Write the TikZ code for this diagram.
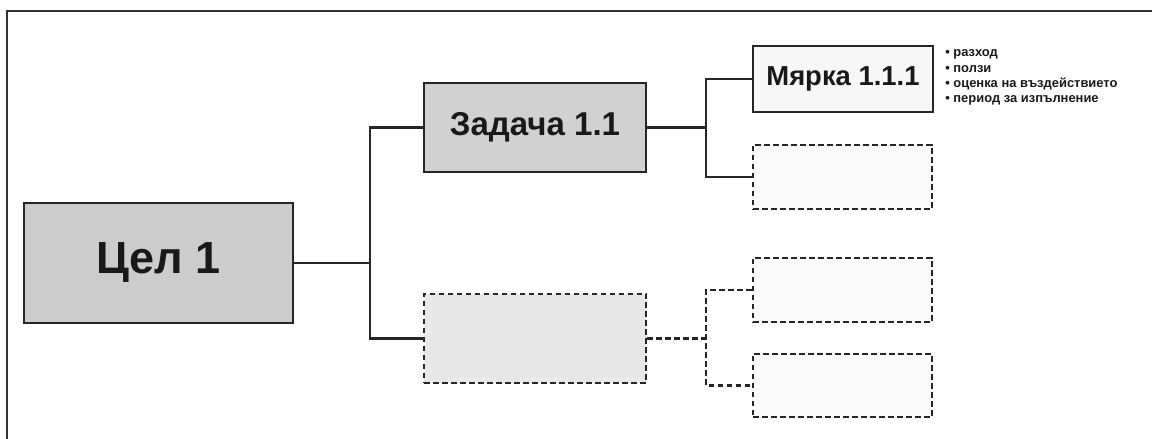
\documentclass[tikz,border=0pt]{standalone}
\usepackage{fontspec}
\setmainfont{Liberation Sans}
\usetikzlibrary{positioning}

\begin{document}
\begin{tikzpicture}[x=0.025cm,y=-0.025cm,
      every node/.style={inner sep=0pt,text=black!90},
      solid box/.style={draw=black!85,line width=1.8pt},
      empty box/.style={draw=black!85,line width=1.6pt,dash pattern=on 4pt off 2.4pt},
      goal node/.style={solid box,fill=black!20,minimum width=6.725cm,minimum height=3cm,font=\fontsize{32}{38}\selectfont\bfseries},
      task node/.style={solid box,fill=black!18,minimum width=5.55cm,minimum height=2.225cm,font=\fontsize{23.5}{28}\selectfont\bfseries},
      measure node/.style={solid box,fill=black!3,minimum width=4.5cm,minimum height=1.65cm,font=\fontsize{19.5}{23}\selectfont\bfseries},
      note/.style={anchor=west,font=\fontsize{9.2}{11}\selectfont\bfseries},
      link/.style={draw=black!85,line width=1.5pt},
      dashed link/.style={link,dash pattern=on 4pt off 2.4pt}]

      \useasboundingbox (0,0) rectangle (1152,439);
      % frame of the page
      \draw[black!80,line width=1.7pt] (7,439) -- (7,11) -- (1152,11);

      \node[goal node] (goal) at (158.5,263) {Цел 1};
      \node[task node] (task) at (535,127.5) {Задача 1.1};
      \node[empty box,fill=black!9,minimum width=5.55cm,minimum height=2.225cm] (task2) at (535,338.5) {};

      \node[measure node] (m1) at (843,79) {Мярка 1.1.1};
      \node[empty box,fill=black!2,minimum width=4.475cm,minimum height=1.6cm] (m2) at (842.5,177) {};
      \node[empty box,fill=black!2,minimum width=4.475cm,minimum height=1.6cm] (m3) at (842.5,290) {};
      \node[empty box,fill=black!2,minimum width=4.475cm,minimum height=1.575cm] (m4) at (842.5,385.5) {};

      % notes next to the measure
      \foreach \y/\t [count=\i] in {54/разход, 69/ползи, 84/оценка на въздействието, 100/период за изпълнение}
          \node[note] (note\i) at (945,\y) {• \t};

      \coordinate (b1) at (370,263);
      \coordinate (b2) at (706,127.5);
      \coordinate (b3) at (706,338.5);

      \path[link] (goal.east) -- (b1);
      \path[link] (task.west) -| (b1) |- (task2.west);
      \path[link] (task.east) -- (b2);
      \path[link] (m1.west) -| (b2) |- (m2.west);
      \path[dashed link] (task2.east) -- (b3);
      \path[dashed link] (m3.west) -| (b3) |- (m4.west);
\end{tikzpicture}
\end{document}
